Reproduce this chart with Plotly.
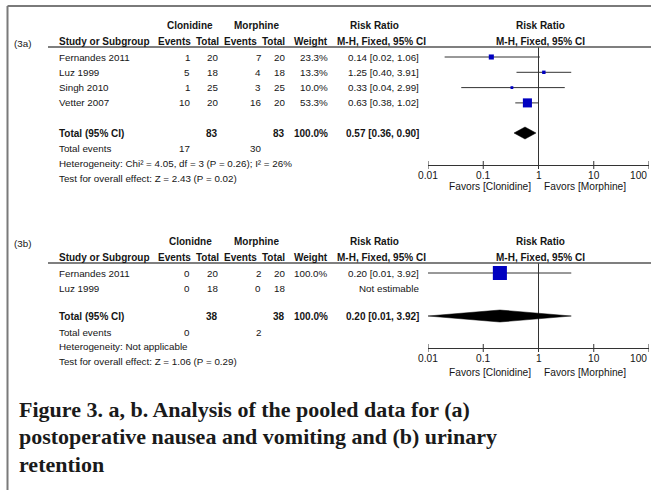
import math
import plotly.graph_objects as go

W, H = 651, 490

# ---------------- data: (3a) postoperative nausea and vomiting ----------------
studies_a = ["Fernandes 2011", "Luz 1999", "Singh 2010", "Vetter 2007"]
clon_events_a = [1, 5, 1, 10]
clon_total_a = [20, 18, 25, 20]
mor_events_a = [7, 4, 3, 16]
mor_total_a = [20, 18, 25, 20]
weight_a = [23.3, 13.3, 10.0, 53.3]
rr_a = [0.14, 1.25, 0.33, 0.63]
lo_a = [0.02, 0.40, 0.04, 0.38]
hi_a = [1.06, 3.91, 2.99, 1.02]
total_a = dict(clon_total=83, mor_total=83, weight=100.0, rr=0.57, lo=0.36, hi=0.90,
               clon_events=17, mor_events=30)
het_a = "Heterogeneity: Chi² = 4.05, df = 3 (P = 0.26); I² = 26%"
test_a = "Test for overall effect: Z = 2.43 (P = 0.02)"

# ---------------- data: (3b) urinary retention ----------------
studies_b = ["Fernandes 2011", "Luz 1999"]
clon_events_b = [0, 0]
clon_total_b = [20, 18]
mor_events_b = [2, 0]
mor_total_b = [20, 18]
weight_b = [100.0, None]
rr_b = [0.20, None]
lo_b = [0.01, None]
hi_b = [3.92, None]
total_b = dict(clon_total=38, mor_total=38, weight=100.0, rr=0.20, lo=0.01, hi=3.92,
               clon_events=0, mor_events=2)
het_b = "Heterogeneity: Not applicable"
test_b = "Test for overall effect: Z = 1.06 (P = 0.29)"

tick_vals = [0.01, 0.1, 1, 10, 100]
tick_text = ["0.01", "0.1", "1", "10", "100"]
favors_left = "Favors [Clonidine]"
favors_right = "Favors [Morphine]"

caption_lines = [
    "Figure 3. a, b. Analysis of the pooled data for (a)",
    "postoperative nausea and vomiting and (b) urinary",
    "retention",
]

# ---------------- styling ----------------
FONT = "Liberation Sans, Arial, sans-serif"
SERIF = "Liberation Serif, Times New Roman, serif"
TC = "#151515"
FS = 9.8     # regular table text
FB = 10      # bold header text
BLUE = "#0000c0"

fig = go.Figure()


def txt(x, y, s, anchor="right", bold=False, size=None, family=FONT, color=TC):
    if size is None:
        size = FB if bold else FS
    fig.add_annotation(x=x / W, y=y, xref="paper", yref="y",
                       text=f"<b>{s}</b>" if bold else s, showarrow=False,
                       xanchor=anchor, yanchor="middle",
                       font=dict(family=family, size=size, color=color))


def fmt_rr(r, l, h):
    return f"{r:.2f} [{l:.2f}, {h:.2f}]"


def panel(tag, grp_clon, studies, ce, ct, me, mt, wt, rr, lo, hi, tot, het, test,
          lay, xa):
    # column header block
    txt(12, lay["label_y"], tag, anchor="left")
    txt(190, lay["grp_y"], grp_clon, anchor="center", bold=True)
    txt(256, lay["grp_y"], "Morphine", anchor="center", bold=True)
    txt(375, lay["grp_y"], "Risk Ratio", anchor="center", bold=True)
    txt(540, lay["grp_y"], "Risk Ratio", anchor="center", bold=True)
    txt(57, lay["hdr_y"], "Study or Subgroup", anchor="left", bold=True)
    txt(193, lay["hdr_y"], "Events", bold=True)
    txt(221, lay["hdr_y"], "Total", bold=True)
    txt(259, lay["hdr_y"], "Events", bold=True)
    txt(287, lay["hdr_y"], "Total", bold=True)
    txt(330, lay["hdr_y"], "Weight", bold=True)
    txt(381, lay["hdr_y"], "M-H, Fixed, 95% CI", anchor="center", bold=True)
    txt(540, lay["hdr_y"], "M-H, Fixed, 95% CI", anchor="center", bold=True)
    fig.add_shape(type="line", xref="paper", yref="y", x0=48 / W, x1=1,
                  y0=lay["line_y"], y1=lay["line_y"], line=dict(color="#555", width=1.5))

    rows = [lay["line_y"] + 10 + i * lay["step"] for i in range(len(studies))]
    for i, s in enumerate(studies):
        y = rows[i]
        txt(57, y, s, anchor="left")
        txt(192, y, str(ce[i]))
        txt(220, y, str(ct[i]))
        txt(263, y, str(me[i]))
        txt(287, y, str(mt[i]))
        txt(330, y, f"{wt[i]:.1f}%" if wt[i] is not None else "")
        txt(421, y, fmt_rr(rr[i], lo[i], hi[i]) if rr[i] is not None else "Not estimable")

    # totals
    ty = lay["total_y"]
    txt(57, ty, "Total (95% CI)", anchor="left", bold=True)
    txt(220, ty, str(tot["clon_total"]), bold=True)
    txt(287, ty, str(tot["mor_total"]), bold=True)
    txt(330, ty, f"{tot['weight']:.1f}%", bold=True)
    txt(421, ty, fmt_rr(tot["rr"], tot["lo"], tot["hi"]), bold=True)
    txt(57, lay["events_y"], "Total events", anchor="left")
    txt(192, lay["events_y"], str(tot["clon_events"]))
    txt(263, lay["events_y"], str(tot["mor_events"]))
    txt(57, lay["het_y"], het, anchor="left")
    txt(57, lay["test_y"], test, anchor="left")

    # forest: line of no effect
    fig.add_trace(go.Scatter(x=[1, 1], y=[lay["line_y"], lay["axis_y"]], mode="lines",
                             line=dict(color="#333", width=1), xaxis=xa, yaxis="y",
                             hoverinfo="skip"))
    # CI whiskers
    cx, cy = [], []
    for i in range(len(studies)):
        if rr[i] is None:
            continue
        cx += [lo[i], hi[i], None]
        cy += [rows[i], rows[i], None]
    fig.add_trace(go.Scatter(x=cx, y=cy, mode="lines", line=dict(color="#333", width=1),
                             xaxis=xa, yaxis="y", hoverinfo="skip"))
    # weighted squares
    mx = [rr[i] for i in range(len(studies)) if rr[i] is not None]
    my = [rows[i] for i in range(len(studies)) if rr[i] is not None]
    ms = [0.56 * wt[i] ** 0.7 for i in range(len(studies)) if rr[i] is not None]
    fig.add_trace(go.Scatter(x=mx, y=my, mode="markers",
                             marker=dict(symbol="square", size=ms, color=BLUE,
                                         opacity=1, line=dict(width=0)),
                             xaxis=xa, yaxis="y"))
    # pooled diamond
    hh = 6
    fig.add_trace(go.Scatter(x=[tot["lo"], tot["rr"], tot["hi"], tot["rr"], tot["lo"]],
                             y=[ty, ty - hh, ty, ty + hh, ty], mode="lines",
                             fill="toself", fillcolor="black",
                             line=dict(color="black", width=0.5),
                             xaxis=xa, yaxis="y", hoverinfo="skip"))
    # axis tick marks crossing the axis line
    tx, tyy = [], []
    for v in tick_vals:
        tx += [v, v, None]
        tyy += [lay["axis_y"] - 4, lay["axis_y"] + 4, None]
    fig.add_trace(go.Scatter(x=tx, y=tyy, mode="lines", line=dict(color="#333", width=1),
                             xaxis=xa, yaxis="y", hoverinfo="skip"))
    # tick labels
    for k, (v, t) in enumerate(zip(tick_vals, tick_text)):
        last = k == len(tick_vals) - 1
        fig.add_annotation(x=math.log10(v), y=lay["axis_y"] + 10, xref=xa, yref="y",
                           text=t, showarrow=False,
                           xanchor="right" if last else "center", yanchor="middle",
                           font=dict(family=FONT, size=10.2, color=TC))
    # favours labels
    txt(533, lay["fav_y"], favors_left, anchor="right", size=10.2)
    txt(542, lay["fav_y"], favors_right, anchor="left", size=10.2)


lay_a = dict(label_y=43, grp_y=25, hdr_y=41, line_y=47, step=15.3, total_y=133,
             events_y=148, het_y=163, test_y=178, axis_y=165, fav_y=186)
lay_b = dict(label_y=243, grp_y=241, hdr_y=257, line_y=263, step=15.3, total_y=316,
             events_y=332, het_y=346, test_y=361, axis_y=348, fav_y=372)

panel("(3a)", "Clonidine", studies_a, clon_events_a, clon_total_a, mor_events_a,
      mor_total_a, weight_a, rr_a, lo_a, hi_a, total_a, het_a, test_a, lay_a, "x")
panel("(3b)", "Clonidne", studies_b, clon_events_b, clon_total_b, mor_events_b,
      mor_total_b, weight_b, rr_b, lo_b, hi_b, total_b, het_b, test_b, lay_b, "x2")

# caption
for i, line in enumerate(caption_lines):
    txt(17, 409 + i * 27.5, line, anchor="left", bold=True, size=22, family=SERIF,
        color="#1a1a1a")

# frame lines (left and top)
fig.add_shape(type="line", xref="paper", yref="y", x0=7.5 / W, x1=7.5 / W, y0=6, y1=H,
              line=dict(color="#7a7a7a", width=2))
fig.add_shape(type="line", xref="paper", yref="y", x0=7.5 / W, x1=1, y0=6, y1=6,
              line=dict(color="#7a7a7a", width=2))

axis_common = dict(type="log", range=[-2, 2], domain=[428 / W, 649 / W],
                   showticklabels=False, ticks="", automargin=False,
                   showline=True, linecolor="#333", linewidth=1,
                   showgrid=False, zeroline=False)

fig.update_layout(
    width=W, height=H,
    margin=dict(l=0, r=0, t=0, b=0, pad=0, autoexpand=False),
    paper_bgcolor="white", plot_bgcolor="white",
    showlegend=False,
    xaxis=dict(**axis_common, anchor="free", position=1 - lay_a["axis_y"] / H),
    xaxis2=dict(**axis_common, anchor="free", overlaying="x",
                position=1 - lay_b["axis_y"] / H),
    yaxis=dict(range=[H, 0], domain=[0, 1], visible=False, showgrid=False,
               zeroline=False, automargin=False),
)

fig.write_html("out.html")
